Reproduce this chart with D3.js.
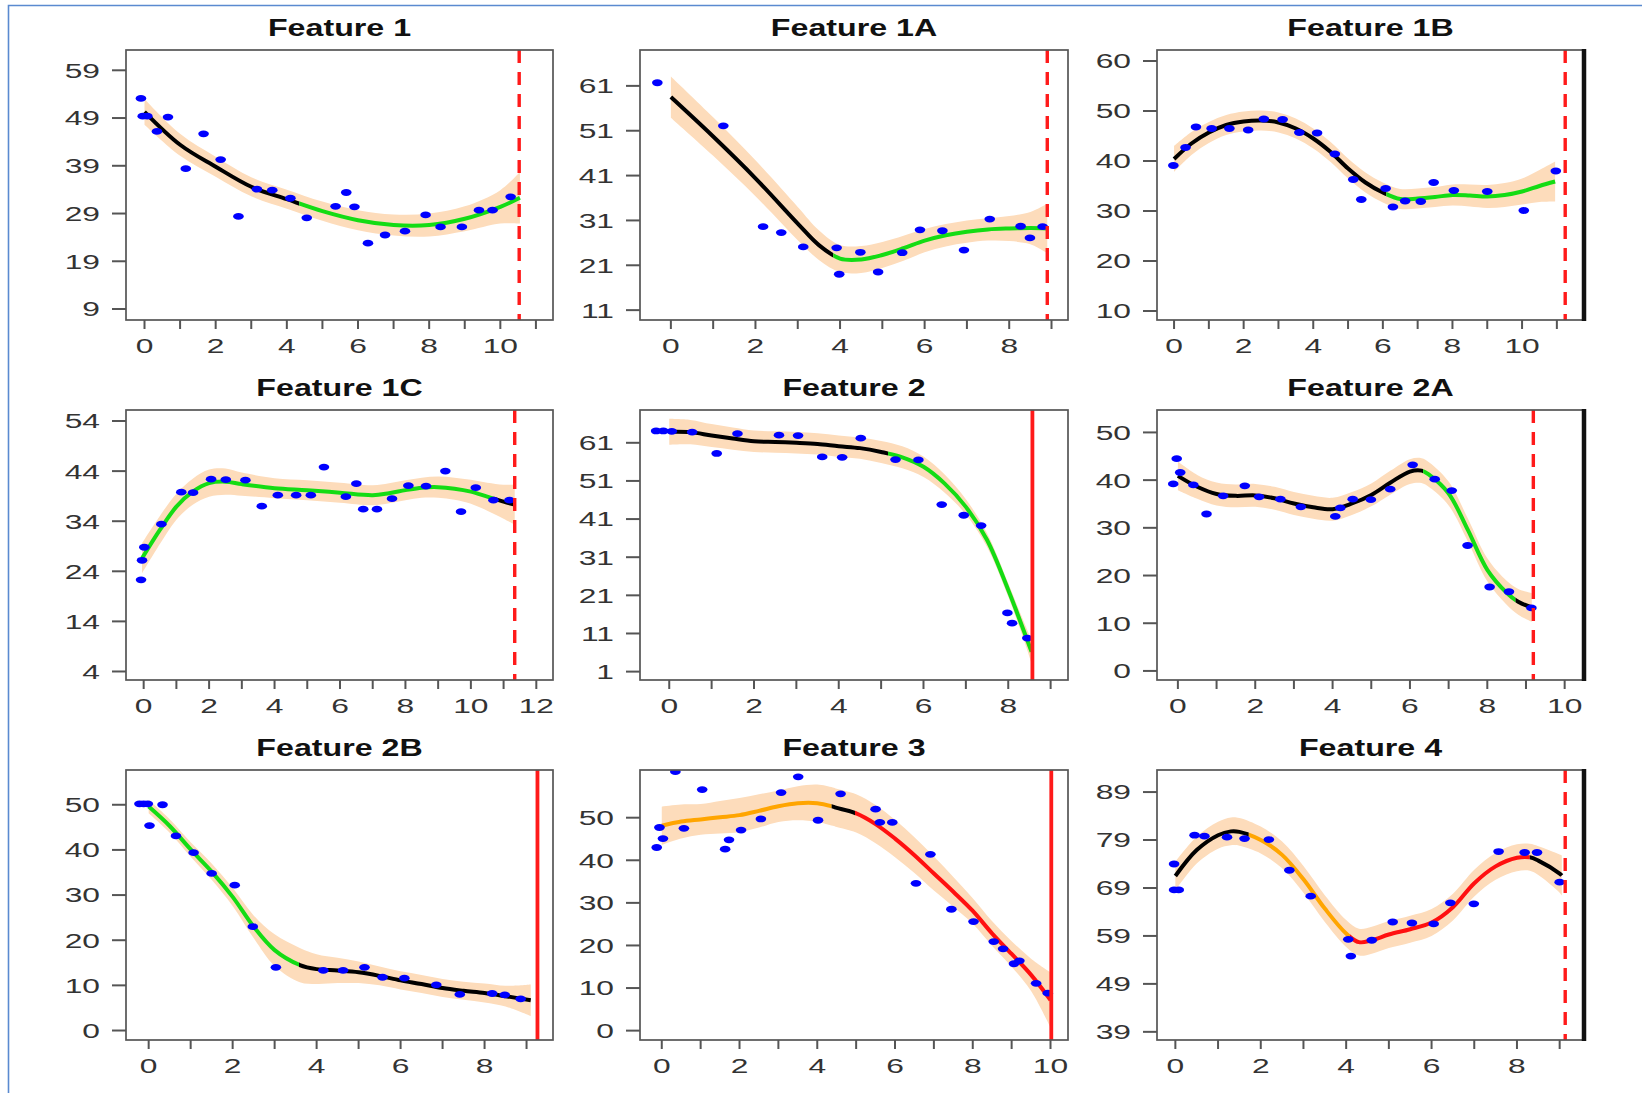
<!DOCTYPE html>
<html>
<head>
<meta charset="utf-8">
<script src="https://cdn.jsdelivr.net/npm/d3@7"></script>
<style>
  body { margin: 0; background: #ffffff; }
  text { font-family: "Liberation Sans", Arial, Helvetica, sans-serif; }
</style>
</head>
<body>
<div id="chart"></div>
<script>
// panel titles and axis settings
var titles = ["Feature 1", "Feature 1A", "Feature 1B", "Feature 1C", "Feature 2", "Feature 2A", "Feature 2B", "Feature 3", "Feature 4"];
var xLims = [[-0.52, 11.48], [-0.73, 9.39], [-0.49, 11.78], [-0.54, 12.51], [-0.69, 9.41], [-0.54, 10.50], [-0.54, 9.63], [-0.56, 10.45], [-0.43, 9.57]];
var yLims = [[6.7, 63.25], [8.8, 69.0], [8.2, 62.2], [2.3, 56.2], [-1.2, 69.6], [-1.9, 54.7], [-2.1, 57.7], [-2.2, 61.2], [37.3, 93.6]];
var yTicks = [
  [9, 19, 29, 39, 49, 59],
  [11, 21, 31, 41, 51, 61],
  [10, 20, 30, 40, 50, 60],
  [4, 14, 24, 34, 44, 54],
  [1, 11, 21, 31, 41, 51, 61],
  [0, 10, 20, 30, 40, 50],
  [0, 10, 20, 30, 40, 50],
  [0, 10, 20, 30, 40, 50],
  [39, 49, 59, 69, 79, 89]
];
var xTickMax = [11, 9, 11, 12, 9, 10, 9, 10, 9];
var cutX = [10.53, 8.90, 11.24, 11.34, 8.57, 9.19, 9.26, 10.02, 9.13];
var cutDashed = [true, true, true, true, false, true, false, false, true];

// Feature 1
var f1PtsX = [-0.10, -0.05, 0.08, 0.35, 0.66, 1.16, 1.66, 2.14, 2.64, 3.16, 3.59, 4.10, 4.56, 5.37, 5.67, 5.90, 6.28, 6.76, 7.32, 7.90, 8.32, 8.92, 9.40, 9.78, 10.29];
var f1PtsY = [53.1, 49.4, 49.4, 46.2, 49.2, 38.4, 45.7, 40.3, 28.4, 34.1, 33.9, 32.2, 28.1, 30.5, 33.4, 30.4, 22.8, 24.5, 25.3, 28.7, 26.2, 26.2, 29.7, 29.7, 32.5];
var f1FitX = [0, 1, 2, 3, 4, 5, 6, 7, 8, 9, 10, 10.55];
var f1FitY = [50.3, 43.4, 38.8, 34.6, 32.0, 29.5, 27.6, 26.6, 26.6, 27.9, 30.4, 32.3];
var f1FitSE = [2.7, 2.3, 2.1, 2.0, 2.0, 2.0, 2.1, 2.2, 2.4, 2.6, 3.5, 5.4];
var f1Breaks = [4.35];
var f1Colors = ["black", "green"];

// Feature 1A
var f1aPtsX = [-0.32, 1.24, 2.18, 2.61, 3.13, 3.92, 3.98, 4.48, 4.90, 5.47, 5.89, 6.42, 6.93, 7.54, 8.27, 8.49, 8.79];
var f1aPtsY = [61.7, 52.1, 29.6, 28.3, 25.1, 24.9, 19.0, 23.9, 19.5, 23.8, 28.9, 28.7, 24.4, 31.3, 29.7, 27.1, 29.6];
var f1aFitX = [0, 1, 2, 3, 3.5, 4, 4.5, 5, 5.5, 6, 6.5, 7, 7.5, 8, 8.5, 8.9];
var f1aFitY = [58.5, 49.7, 40.4, 30.3, 25.5, 22.5, 22.3, 23.3, 24.8, 26.5, 27.7, 28.5, 29.0, 29.2, 29.3, 29.2];
var f1aFitSE = [4.6, 4.3, 4.0, 3.7, 3.3, 3.0, 3.0, 2.9, 2.8, 2.6, 2.5, 2.5, 2.5, 2.8, 3.6, 5.5];
var f1aBreaks = [3.84];
var f1aColors = ["black", "green"];

// Feature 1B
var f1bPtsX = [-0.02, 0.33, 0.63, 1.08, 1.59, 2.13, 2.58, 3.12, 3.60, 4.11, 4.62, 5.15, 5.38, 6.08, 6.29, 6.64, 7.09, 7.46, 8.04, 9.00, 10.05, 10.97];
var f1bPtsY = [39.1, 42.7, 46.8, 46.5, 46.5, 46.2, 48.4, 48.3, 45.7, 45.6, 41.4, 36.3, 32.3, 34.5, 30.8, 32.0, 31.9, 35.7, 34.1, 33.9, 30.1, 38.0];
var f1bFitX = [0, 0.5, 1, 1.5, 2, 2.5, 3, 3.5, 4, 4.5, 5, 5.5, 6, 6.5, 7, 7.5, 8, 8.5, 9, 9.5, 10, 10.5, 10.95];
var f1bFitY = [40.4, 43.5, 45.7, 47.2, 47.9, 48.1, 47.7, 46.5, 44.5, 41.8, 38.5, 35.7, 33.7, 32.4, 32.5, 32.8, 33.2, 33.1, 32.9, 33.2, 33.9, 35.0, 35.9];
var f1bFitSE = [2.6, 2.3, 2.1, 2.0, 2.0, 2.0, 2.0, 2.0, 2.0, 2.0, 2.0, 2.0, 2.0, 2.0, 2.0, 2.0, 2.1, 2.2, 2.3, 2.4, 2.6, 3.2, 4.0];
var f1bBreaks = [6.1];
var f1bColors = ["black", "green"];

// Feature 1C
var f1cPtsX = [-0.08, -0.05, 0.02, 0.54, 1.15, 1.51, 2.06, 2.51, 3.11, 3.61, 4.10, 4.66, 5.11, 5.51, 6.18, 6.50, 6.71, 7.13, 7.59, 8.09, 8.63, 9.22, 9.70, 10.15, 10.69, 11.18];
var f1cPtsY = [22.3, 26.2, 28.8, 33.4, 39.8, 39.7, 42.4, 42.3, 42.2, 37.0, 39.2, 39.2, 39.2, 44.8, 38.9, 41.5, 36.4, 36.4, 38.5, 41.1, 41.0, 44.0, 35.9, 40.7, 38.2, 38.2];
var f1cFitX = [-0.05, 0.5, 1, 1.5, 2, 2.5, 3, 4, 5, 6, 7, 7.5, 8, 8.5, 9, 9.5, 10, 10.5, 11, 11.34];
var f1cFitY = [26.6, 32.3, 36.9, 39.9, 41.6, 41.9, 41.4, 40.6, 40.2, 39.7, 39.2, 39.6, 40.2, 40.7, 40.8, 40.5, 39.9, 38.9, 37.9, 37.3];
var f1cFitSE = [3.0, 2.8, 2.6, 2.6, 2.7, 2.6, 2.3, 2.0, 2.0, 2.0, 2.0, 2.0, 2.0, 2.0, 2.1, 2.2, 2.4, 2.8, 3.4, 4.0];
var f1cBreaks = [10.7];
var f1cColors = ["green", "black"];

// Feature 2
var f2PtsX = [-0.31, -0.14, 0.06, 0.54, 1.12, 1.61, 2.59, 3.04, 3.61, 4.08, 4.52, 5.34, 5.88, 6.43, 6.95, 7.36, 7.98, 8.09, 8.45];
var f2PtsY = [64.1, 64.1, 64.0, 63.8, 58.2, 63.4, 63.0, 62.9, 57.3, 57.2, 62.2, 56.6, 56.5, 44.8, 42.0, 39.3, 16.4, 13.7, 9.8];
var f2FitX = [0, 0.5, 1, 1.5, 2, 2.5, 3, 3.5, 4, 4.5, 5, 5.5, 6, 6.5, 7, 7.5, 8, 8.3, 8.55];
var f2FitY = [63.9, 63.8, 62.9, 62.1, 61.4, 61.2, 61.0, 60.7, 60.1, 59.6, 58.6, 57.2, 54.7, 50.3, 44.2, 35.5, 22.4, 13.7, 6.2];
var f2FitSE = [3.4, 3.2, 3.0, 2.9, 2.8, 2.8, 2.8, 2.8, 2.8, 2.8, 2.9, 2.9, 2.7, 2.4, 2.0, 1.8, 1.8, 2.2, 3.0];
var f2Breaks = [5.16];
var f2Colors = ["black", "green"];

// Feature 2A
var f2aPtsX = [-0.12, -0.03, 0.06, 0.40, 0.74, 1.17, 1.73, 2.10, 2.65, 3.18, 4.07, 4.20, 4.52, 4.99, 5.49, 6.07, 6.64, 7.08, 7.49, 8.06, 8.56, 9.14];
var f2aPtsY = [39.2, 44.5, 41.6, 39.0, 32.9, 36.7, 38.8, 36.5, 36.0, 34.4, 32.4, 34.2, 36.0, 35.9, 38.1, 43.2, 40.2, 37.8, 26.3, 17.6, 16.6, 13.2];
var f2aFitX = [0, 0.5, 1, 1.5, 2, 2.5, 3, 3.5, 4, 4.5, 5, 5.5, 6, 6.3, 6.5, 7, 7.5, 8, 8.5, 8.8, 9.15];
var f2aFitY = [40.9, 38.6, 37.1, 36.7, 36.8, 36.2, 35.1, 34.3, 33.9, 35.1, 36.9, 39.5, 41.8, 42.0, 41.1, 37.2, 29.5, 21.2, 16.4, 14.5, 13.3];
var f2aFitSE = [3.0, 2.5, 2.4, 2.4, 2.4, 2.4, 2.4, 2.4, 2.4, 2.4, 2.4, 2.5, 2.6, 2.6, 2.6, 2.5, 2.4, 2.4, 2.5, 2.7, 3.0];
var f2aBreaks = [6.34, 8.73];
var f2aColors = ["black", "green", "black"];

// Feature 2B
var f2bPtsX = [-0.22, -0.12, -0.02, 0.02, 0.33, 0.65, 1.07, 1.50, 2.05, 2.48, 3.03, 4.16, 4.63, 5.14, 5.57, 6.09, 6.85, 7.41, 8.18, 8.48, 8.86];
var f2bPtsY = [50.2, 50.2, 50.2, 45.4, 50.0, 43.1, 39.4, 34.8, 32.2, 23.0, 14.0, 13.3, 13.3, 14.0, 11.8, 11.6, 10.1, 8.0, 8.2, 7.9, 7.0];
var f2bFitX = [0, 0.5, 1, 1.5, 2, 2.5, 3, 3.6, 4, 4.5, 5, 5.5, 6, 6.5, 7, 7.5, 8, 8.5, 9.1];
var f2bFitY = [49.6, 45.3, 40.1, 35.2, 29.6, 23.0, 17.8, 14.5, 13.6, 13.3, 12.9, 12.1, 11.1, 10.3, 9.4, 8.8, 8.3, 7.6, 6.7];
var f2bFitSE = [1.5, 1.5, 1.6, 1.8, 2.0, 2.5, 3.5, 3.8, 3.3, 2.8, 2.4, 2.1, 2.0, 2.0, 2.0, 2.0, 2.1, 2.3, 3.5];
var f2bBreaks = [3.58];
var f2bColors = ["green", "black"];

// Feature 3
var f3PtsX = [-0.13, -0.06, 0.03, 0.35, 0.57, 1.04, 1.63, 1.73, 2.04, 2.55, 3.07, 3.51, 4.02, 4.60, 5.50, 5.61, 5.93, 6.54, 6.91, 7.45, 8.02, 8.54, 8.78, 9.06, 9.20, 9.63, 9.93];
var f3PtsY = [43.0, 47.7, 45.1, 60.8, 47.5, 56.6, 42.6, 44.8, 47.1, 49.7, 55.9, 59.6, 49.4, 55.6, 52.0, 48.9, 48.9, 34.6, 41.4, 28.5, 25.6, 20.9, 19.2, 15.7, 16.4, 11.1, 8.8];
var f3FitX = [0, 0.5, 1, 1.5, 2, 2.5, 3, 3.5, 4, 4.4, 4.5, 5, 5.5, 6, 6.5, 7, 7.5, 8, 8.5, 9, 9.5, 10];
var f3FitY = [48.1, 49.1, 49.6, 50.1, 50.6, 51.6, 52.7, 53.4, 53.4, 52.6, 52.3, 51.0, 48.5, 45.1, 41.2, 36.9, 32.6, 28.1, 22.8, 18.0, 13.1, 7.2];
var f3FitSE = [4.5, 4.0, 3.6, 3.8, 4.0, 3.9, 3.7, 4.0, 4.4, 4.5, 4.5, 4.5, 4.5, 4.4, 4.2, 4.0, 3.5, 3.0, 2.9, 3.0, 3.8, 6.5];
var f3Breaks = [4.37, 4.97];
var f3Colors = ["orange", "black", "red"];

// Feature 4
var f4PtsX = [-0.03, -0.03, 0.08, 0.45, 0.68, 1.21, 1.62, 2.19, 2.67, 3.17, 4.05, 4.11, 4.60, 5.09, 5.54, 6.05, 6.44, 6.99, 7.57, 8.18, 8.47, 9.00];
var f4PtsY = [74.0, 68.6, 68.6, 80.0, 79.8, 79.6, 79.3, 79.1, 72.7, 67.3, 58.3, 54.8, 58.1, 61.9, 61.7, 61.5, 65.9, 65.7, 76.6, 76.4, 76.4, 70.2];
var f4FitX = [0, 0.5, 1, 1.3, 1.5, 2, 2.5, 3, 3.5, 4, 4.3, 4.6, 5, 5.5, 6, 6.5, 7, 7.5, 8, 8.3, 8.5, 9, 9.05];
var f4FitY = [71.5, 76.9, 80.0, 80.8, 80.7, 79.0, 75.9, 70.8, 64.7, 59.5, 57.7, 58.1, 59.3, 60.4, 61.8, 65.0, 70.0, 73.5, 75.3, 75.4, 74.7, 72.0, 71.6];
var f4FitSE = [3.0, 2.8, 2.8, 2.9, 2.9, 2.8, 2.8, 2.8, 2.8, 2.8, 2.8, 2.8, 2.8, 2.8, 2.8, 2.8, 2.8, 2.8, 2.8, 2.8, 3.0, 4.0, 4.2];
var f4Breaks = [1.72, 4.09, 8.3];
var f4Colors = ["black", "orange", "red", "black"];

var panels = [
  {px: f1PtsX, py: f1PtsY, fx: f1FitX, fy: f1FitY, se: f1FitSE, breaks: f1Breaks, colors: f1Colors},
  {px: f1aPtsX, py: f1aPtsY, fx: f1aFitX, fy: f1aFitY, se: f1aFitSE, breaks: f1aBreaks, colors: f1aColors},
  {px: f1bPtsX, py: f1bPtsY, fx: f1bFitX, fy: f1bFitY, se: f1bFitSE, breaks: f1bBreaks, colors: f1bColors},
  {px: f1cPtsX, py: f1cPtsY, fx: f1cFitX, fy: f1cFitY, se: f1cFitSE, breaks: f1cBreaks, colors: f1cColors},
  {px: f2PtsX, py: f2PtsY, fx: f2FitX, fy: f2FitY, se: f2FitSE, breaks: f2Breaks, colors: f2Colors},
  {px: f2aPtsX, py: f2aPtsY, fx: f2aFitX, fy: f2aFitY, se: f2aFitSE, breaks: f2aBreaks, colors: f2aColors},
  {px: f2bPtsX, py: f2bPtsY, fx: f2bFitX, fy: f2bFitY, se: f2bFitSE, breaks: f2bBreaks, colors: f2bColors},
  {px: f3PtsX, py: f3PtsY, fx: f3FitX, fy: f3FitY, se: f3FitSE, breaks: f3Breaks, colors: f3Colors},
  {px: f4PtsX, py: f4PtsY, fx: f4FitX, fy: f4FitY, se: f4FitSE, breaks: f4Breaks, colors: f4Colors}
];

var lineColors = {black: "#000000", green: "#14dc14", orange: "#ffa500", red: "#ff1010"};

// layout of the 3x3 grid
var colLeft = [126, 640, 1157], colRight = [553, 1068, 1584];
var rowTop = [50, 410, 770], rowBottom = [320, 680, 1040];
var textStretch = 1.55;

var svg = d3.select("#chart").append("svg")
  .attr("width", 1642)
  .attr("height", 1093);

// thin blue frame round the figure
svg.append("path")
  .attr("d", "M1642,5.5 H8.5 V1093")
  .attr("fill", "none")
  .attr("stroke", "#5a8ad0")
  .attr("stroke-width", 1.6);

var defs = svg.append("defs");

function stretchedText(g, x, y, str) {
  return g.append("text")
    .attr("transform", "translate(" + x + "," + y + ") scale(" + textStretch + ",1)")
    .text(str);
}

function drawPanel(i) {
  var p = panels[i];
  var col = i % 3, row = Math.floor(i / 3);
  var left = colLeft[col], right = colRight[col], top = rowTop[row], bottom = rowBottom[row];

  var x = d3.scaleLinear().domain(xLims[i]).range([left, right]);
  var y = d3.scaleLinear().domain(yLims[i]).range([bottom, top]);

  var g = svg.append("g").attr("class", "panel");

  defs.append("clipPath").attr("id", "clip" + i)
    .append("rect")
    .attr("x", left).attr("y", top)
    .attr("width", right - left).attr("height", bottom - top);

  var inner = g.append("g").attr("clip-path", "url(#clip" + i + ")");

  var fit = p.fx.map(function(v, k) { return [v, p.fy[k], p.se[k]]; });

  // confidence band
  var band = d3.area()
    .x(function(d) { return x(d[0]); })
    .y0(function(d) { return y(d[1] - d[2]); })
    .y1(function(d) { return y(d[1] + d[2]); })
    .curve(d3.curveCatmullRom);
  inner.append("path")
    .attr("d", band(fit))
    .attr("fill", "#fddcbb");

  // fitted curve, coloured piece by piece
  var line = d3.line()
    .x(function(d) { return x(d[0]); })
    .y(function(d) { return y(d[1]); })
    .curve(d3.curveCatmullRom);
  var edges = [xLims[i][0]].concat(p.breaks).concat([xLims[i][1]]);
  for (let s = 0; s < p.colors.length; s++) {
    var segId = "seg" + i + "_" + s;
    defs.append("clipPath").attr("id", segId)
      .append("rect")
      .attr("x", x(edges[s])).attr("y", top - 10)
      .attr("width", x(edges[s + 1]) - x(edges[s])).attr("height", bottom - top + 20);
    inner.append("g").attr("clip-path", "url(#" + segId + ")")
      .append("path")
      .attr("d", line(fit))
      .attr("fill", "none")
      .attr("stroke", lineColors[p.colors[s]])
      .attr("stroke-width", 4)
      .attr("stroke-linecap", "butt");
  }

  // data points
  inner.selectAll("ellipse.pt")
    .data(p.px.map(function(v, k) { return [v, p.py[k]]; }))
    .enter().append("ellipse")
    .attr("class", "pt")
    .attr("cx", function(d) { return x(d[0]); })
    .attr("cy", function(d) { return y(d[1]); })
    .attr("rx", 5.3)
    .attr("ry", 3.4)
    .attr("fill", "#0000ff");

  // vertical red marker
  g.append("line")
    .attr("x1", x(cutX[i])).attr("x2", x(cutX[i]))
    .attr("y1", top).attr("y2", bottom)
    .attr("stroke", "#ff1a1a")
    .attr("stroke-width", cutDashed[i] ? 3.4 : 3.8)
    .attr("stroke-dasharray", cutDashed[i] ? "13,9" : null);

  // box
  g.append("rect")
    .attr("x", left).attr("y", top)
    .attr("width", right - left).attr("height", bottom - top)
    .attr("fill", "none")
    .attr("stroke", "#555555")
    .attr("stroke-width", 1.7);
  if (col == 2) {
    g.append("line")
      .attr("x1", right).attr("x2", right)
      .attr("y1", top - 1).attr("y2", bottom + 1)
      .attr("stroke", "#111111")
      .attr("stroke-width", 4.5);
  }

  // x axis ticks
  var xt = d3.range(0, xTickMax[i] + 1);
  g.selectAll("line.xt").data(xt).enter().append("line")
    .attr("x1", function(d) { return x(d); }).attr("x2", function(d) { return x(d); })
    .attr("y1", bottom).attr("y2", bottom + 9)
    .attr("stroke", "#555555").attr("stroke-width", 2);
  xt.forEach(function(d) {
    if (d % 2 == 0) {
      stretchedText(g, x(d), bottom + 33, d)
        .attr("text-anchor", "middle")
        .attr("font-size", 20.5)
        .attr("fill", "#333333");
    }
  });

  // y axis ticks
  g.selectAll("line.yt").data(yTicks[i]).enter().append("line")
    .attr("x1", left - 14).attr("x2", left)
    .attr("y1", function(d) { return y(d); }).attr("y2", function(d) { return y(d); })
    .attr("stroke", "#555555").attr("stroke-width", 2);
  yTicks[i].forEach(function(d) {
    stretchedText(g, left - 26, y(d), d)
      .attr("text-anchor", "end")
      .attr("dy", "0.36em")
      .attr("font-size", 20.5)
      .attr("fill", "#333333");
  });

  // title
  svg.append("text")
    .attr("transform", "translate(" + ((left + right) / 2) + "," + (top - 14) + ") scale(1.4,1)")
    .attr("text-anchor", "middle")
    .attr("font-size", 23)
    .attr("font-weight", "bold")
    .attr("fill", "#111111")
    .text(titles[i]);
}

for (let i = 0; i < panels.length; i++) {
  drawPanel(i);
}
</script>
</body>
</html>
